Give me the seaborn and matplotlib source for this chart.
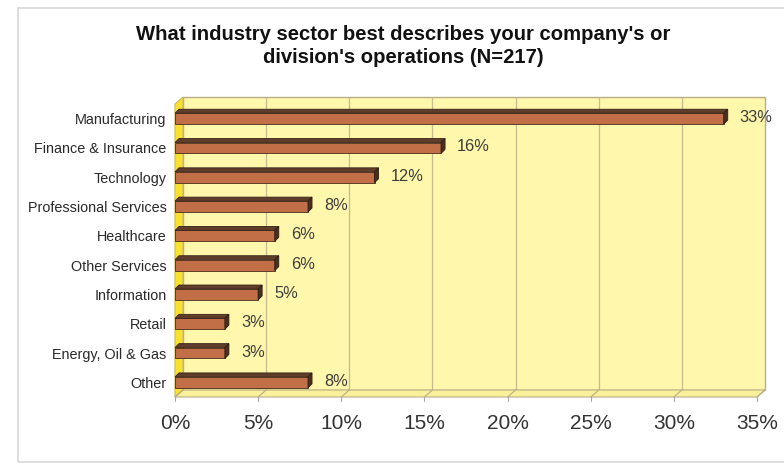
import matplotlib
matplotlib.use("Agg")
import matplotlib.pyplot as plt
import seaborn as sns
import pandas as pd
from matplotlib.patches import Polygon, Rectangle
from matplotlib.lines import Line2D

# Survey responses by industry sector (percent of N=217)
sectors = ["Manufacturing", "Finance & Insurance", "Technology", "Professional Services",
           "Healthcare", "Other Services", "Information", "Retail", "Energy, Oil & Gas", "Other"]
shares = [33, 16, 12, 8, 6, 6, 5, 3, 3, 8]
x_ticks = [0, 5, 10, 15, 20, 25, 30, 35]
x_tick_labels = ["0%", "5%", "10%", "15%", "20%", "25%", "30%", "35%"]

df = pd.DataFrame({"sector": sectors, "share": shares})

sns.set_style("white")
plt.rcParams["font.family"] = ["Liberation Sans", "DejaVu Sans"]

W, H = 784, 466
fig = plt.figure(figsize=(W / 100, H / 100), dpi=100)
fig.patch.set_facecolor("white")

# background layer for the 3D box (walls, floor, grid)
bg = fig.add_axes([0, 0, 1, 1], zorder=0)
bg.set_axis_off()

# front plane of the plot box, in pixels
left_px, right_px = 175, 757
top_px, bot_px = 104, 397
ax = fig.add_axes([left_px / W, (H - bot_px) / H, (right_px - left_px) / W, (bot_px - top_px) / H],
                  zorder=1)
ax.set_facecolor("none")

# outer frame around the chart
bg.add_artist(Rectangle((18, 4), 800, 454, transform=None, fill=False,
                        edgecolor="#d8d8d8", linewidth=1.2))

front_c = "#c26e47"
sns.barplot(data=df, x="share", y="sector", orient="h", color=front_c, width=0.37,
            saturation=1, ax=ax, zorder=5)
ax.set_xlim(0, 35)
ax.set_ylim(len(sectors) - 0.5, -0.5)

fig.canvas.draw()
to_px = ax.transData.transform

DX, DY = 8, 7      # depth of the box (display px, y upwards)
bdx, bdy = 4, 4    # depth of the bars

def poly(target, pts, **kw):
    p = Polygon(pts, closed=True, transform=None, clip_on=False, **kw)
    target.add_artist(p)
    return p

def seg(target, xs, ys, **kw):
    target.add_artist(Line2D(xs, ys, transform=None, clip_on=False, **kw))

(x0, y0) = to_px((0, len(sectors) - 0.5))
(x1, y1) = to_px((35, -0.5))

# back wall
poly(bg, [(x0 + DX, y0 + DY), (x1 + DX, y0 + DY), (x1 + DX, y1 + DY), (x0 + DX, y1 + DY)],
     facecolor="#fff7ab", edgecolor="#b9ad86", linewidth=1.0, zorder=1)
# grid lines on back wall
for t in x_ticks[1:-1]:
    gx, _ = to_px((t, 0))
    seg(bg, [gx + DX, gx + DX], [y0 + DY, y1 + DY], color="#c7ba8f", linewidth=0.9, zorder=2)
# left side wall
poly(bg, [(x0, y0), (x0 + DX, y0 + DY), (x0 + DX, y1 + DY), (x0, y1)],
     facecolor="#f9e031", edgecolor="#c8b860", linewidth=0.8, zorder=3)
# floor
poly(bg, [(x0, y0), (x1, y0), (x1 + DX, y0 + DY), (x0 + DX, y0 + DY)],
     facecolor="#fbf09a", edgecolor="#b9ad86", linewidth=0.8, zorder=3)
for t in x_ticks:
    gx, gy = to_px((t, len(sectors) - 0.5))
    seg(bg, [gx, gx + DX], [gy, gy + DY], color="#b9ad86", linewidth=0.8, zorder=4)
    seg(bg, [gx, gx], [gy, gy - 4], color="#a8a8a8", linewidth=0.8, zorder=4)

# 3D faces for each bar, from the bar geometry drawn by seaborn
for bar, v in zip(ax.patches, shares):
    bx, by, bw, bh = bar.get_x(), bar.get_y(), bar.get_width(), bar.get_height()
    (px0, pyb) = to_px((bx, by + bh))
    (px1, pyt) = to_px((bx + bw, by))
    bar.set_edgecolor("#4a2c1c")
    bar.set_linewidth(0.6)
    poly(ax, [(px0, pyt), (px1, pyt), (px1 + bdx, pyt + bdy), (px0 + bdx, pyt + bdy)],
         facecolor="#5f3d2b", edgecolor="#3a2418", linewidth=0.6, zorder=6)
    poly(ax, [(px1, pyb), (px1, pyt), (px1 + bdx, pyt + bdy), (px1 + bdx, pyb + bdy)],
         facecolor="#4a2f20", edgecolor="#2e1c12", linewidth=0.6, zorder=6)
    ax.annotate(f"{v}%", xy=(bx + bw, by + bh / 2), xytext=(bdx + 12, 1),
                textcoords="offset pixels", va="center", ha="left",
                fontsize=11.8, color="#3c3c3c", zorder=7, annotation_clip=False)

# axes styling
for s in ax.spines.values():
    s.set_visible(False)
ax.set_xlabel("")
ax.set_ylabel("")
ax.set_xticks(x_ticks)
ax.set_xticklabels(x_tick_labels, fontsize=15, color="#333333")
ax.tick_params(axis="x", length=0, pad=12)
ax.set_yticks(range(len(sectors)))
ax.set_yticklabels(sectors, fontsize=10.4, color="#2a2a2a")
ax.tick_params(axis="y", length=0, pad=6)
ax.set_yticks([i - 0.5 for i in range(len(sectors) + 1)], minor=True)
ax.tick_params(axis="y", which="minor", length=4, color="#a8a8a8", width=0.8, direction="out")
ax.grid(False)
ax.set_xlim(0, 35)
ax.set_ylim(len(sectors) - 0.5, -0.5)

fig.text(0.514, 1 - 46 / H, "What industry sector best describes your company's or\n"
         "division's operations (N=217)", ha="center", va="center",
         fontsize=14.6, fontweight="bold", color="#111111", linespacing=1.25)

fig.savefig("out.png", dpi=100)
